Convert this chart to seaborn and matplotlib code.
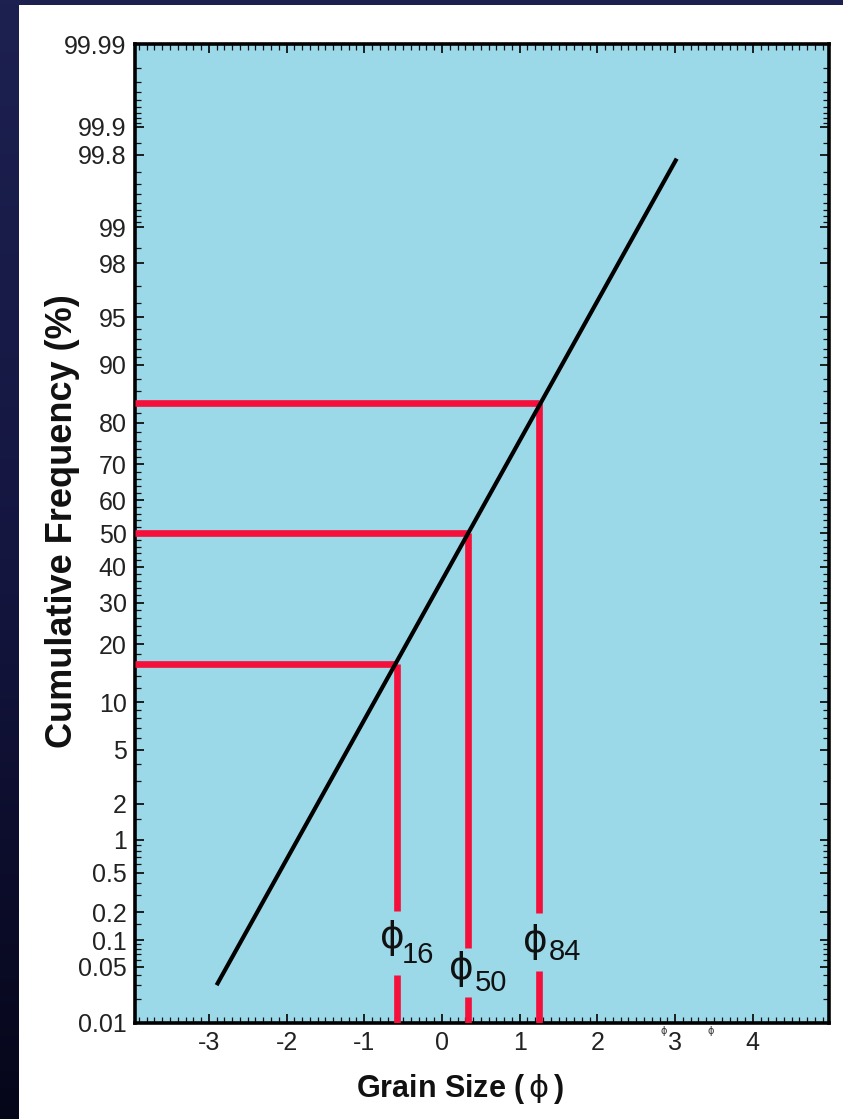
import numpy as np
import matplotlib
matplotlib.use("Agg")
import matplotlib.pyplot as plt
import matplotlib.ticker as mticker
from matplotlib.patches import Rectangle
import seaborn as sns
from statistics import NormalDist

# ---------------- data ----------------
line_x = [-2.90, 3.02]           # grain size (phi) at line ends
line_p = [0.030, 99.78]          # cumulative frequency (%) at line ends

pct_labels = ["16", "50", "84"]
pct_values = [16, 50, 84]        # cumulative %
phi_values = [-0.58, 0.33, 1.25] # grain size at those percentiles
gap_low = [0.040, 0.0215, 0.0444]   # red vertical gap (label area) bottom, %
gap_high = [0.207, 0.082, 0.196]    # red vertical gap top, %

ytick_vals = [0.01, 0.05, 0.1, 0.2, 0.5, 1, 2, 5, 10, 20, 30, 40, 50, 60,
              70, 80, 90, 95, 98, 99, 99.8, 99.9, 99.99]
ytick_labels = ["0.01", "0.05", "0.1", "0.2", "0.5", "1", "2", "5", "10", "20",
                "30", "40", "50", "60", "70", "80", "90", "95", "98", "99",
                "99.8", "99.9", "99.99"]
xtick_vals = [-3, -2, -1, 0, 1, 2, 3, 4]
xtick_labels = ["-3", "-2", "-1", "0", "1", "2", "3", "4"]

# ---------------- probability scale ----------------
_nd = NormalDist()
_ppf = np.vectorize(_nd.inv_cdf, otypes=[float])
_cdf = np.vectorize(_nd.cdf, otypes=[float])

def fwd(p):
    p = np.asarray(p, dtype=float)
    q = np.clip(np.nan_to_num(p / 100.0, nan=0.5), 1e-12, 1 - 1e-12)
    out = _ppf(q) if q.size else q
    return np.where(np.isnan(p), np.nan, out)

def inv(z):
    z = np.asarray(z, dtype=float)
    out = _cdf(np.nan_to_num(z)) * 100.0 if z.size else z
    return np.where(np.isnan(z), np.nan, out)

# ---------------- style ----------------
sns.set_theme(style="ticks")
plt.rcParams["font.family"] = ["Liberation Sans", "DejaVu Sans"]
plt.rcParams["mathtext.fontset"] = "dejavusans"

W, H = 843, 1119
fig = plt.figure(figsize=(W / 100, H / 100), dpi=100)

# dark navy gradient background + white panel
bg = fig.add_axes([0, 0, 1, 1], zorder=-10)
grad = np.linspace(0, 1, 256)[:, None]
cmap = matplotlib.colors.LinearSegmentedColormap.from_list(
    "navy", ["#1d2150", "#141640", "#06061a"])
bg.imshow(grad, aspect="auto", cmap=cmap, extent=[0, 1, 0, 1])
bg.add_patch(Rectangle((19 / W, 0), 1 - 19 / W, 1 - 5 / H,
                       transform=bg.transAxes, facecolor="white",
                       edgecolor="none"))
bg.set_axis_off()

L, R, T, B = 135, 829, 44, 1023
ax = fig.add_axes([L / W, 1 - B / H, (R - L) / W, (B - T) / H])
ax.set_facecolor("#9bd8e8")
ax.set_yscale("function", functions=(fwd, inv))
ax.set_xlim(-3.95, 4.98)
ax.set_ylim(0.01, 99.99)

# black cumulative line
sns.lineplot(x=line_x, y=line_p, ax=ax, color="black", linewidth=3.0,
             solid_capstyle="butt", zorder=4, sort=False)

red = "#f5103c"
xmin = ax.get_xlim()[0]
for px, pv, lo, hi in zip(phi_values, pct_values, gap_low, gap_high):
    ax.plot([xmin, px], [pv, pv], color=red, lw=4.8, solid_capstyle="butt",
            zorder=3)
    ax.plot([px, px], [pv, hi], color=red, lw=4.8, solid_capstyle="butt",
            zorder=3)
    ax.plot([px, px], [0.01, lo], color=red, lw=4.8, solid_capstyle="butt",
            zorder=3)

# phi labels (glyph + subscript number), placed relative to each vertical
label_pos = {  # glyph y (axes frac), glyph dx px, num y, num dx px
    "16": (0.087, -5, 0.069, 5),
    "50": (0.055, -6, 0.041, 7),
    "84": (0.083, -4, 0.073, 10),
}
tr = matplotlib.transforms.blended_transform_factory(ax.transData, ax.transAxes)
for px, lab in zip(phi_values, pct_labels):
    gy, gdx, ny, ndx = label_pos[lab]
    ax.annotate("ϕ", xy=(px, gy), xycoords=tr, xytext=(gdx, 0),
                textcoords="offset pixels", ha="center", va="center",
                fontsize=27, color="#111111", family=["DejaVu Sans"], zorder=5)
    ax.annotate(lab, xy=(px, ny), xycoords=tr, xytext=(ndx, 0),
                textcoords="offset pixels", ha="left", va="center",
                fontsize=21, color="#111111", zorder=5)

# ticks
ax.set_yticks(ytick_vals)
ax.set_yticklabels(ytick_labels)
minor_y = ([0.02, 0.03, 0.04, 0.06, 0.07, 0.08, 0.09, 0.15, 0.3, 0.4, 0.6,
            0.7, 0.8, 0.9, 1.5, 3, 4, 6, 7, 8, 9]
           + list(range(12, 90, 2)))
minor_y = minor_y + [round(100 - v, 3) for v in minor_y if v < 10] + \
    [99.95, 99.98, 99.85, 99.7, 99.6, 99.5, 99.4, 99.3]
ax.yaxis.set_minor_locator(mticker.FixedLocator(sorted(set(minor_y))))
ax.yaxis.set_minor_formatter(mticker.NullFormatter())
ax.set_xticks(xtick_vals)
ax.set_xticklabels(xtick_labels)
ax.xaxis.set_minor_locator(mticker.MultipleLocator(0.1))

ax.tick_params(which="both", direction="in", top=True, right=True,
               color="#111111")
ax.tick_params(which="major", length=6.5, width=1.3, labelsize=18,
               labelcolor="#222222", pad=6)
ax.tick_params(which="minor", length=4, width=0.9)

for sp in ax.spines.values():
    sp.set_linewidth(2.6)
    sp.set_color("black")
    sp.set_visible(True)

ax.set_xlabel(r"Grain Size ($\,\mathrm{\phi}\,$)", fontsize=22,
              fontweight="bold", color="#111111")
ax.set_ylabel("Cumulative Frequency (%)", fontsize=26, fontweight="bold",
              color="#111111")
ax.xaxis.set_label_coords((460 - L) / (R - L), (B - 1072) / (B - T))
ax.yaxis.set_label_coords((80 - L) / (R - L), (B - 521) / (B - T))

# small stray phi marks below the axis
for xp in (664, 711):
    fig.text(xp / W, 1 - 1031 / H, "ϕ", fontsize=7, color="#333333",
             ha="center", va="center", family=["DejaVu Sans"])

fig.savefig("out.png", dpi=100)
